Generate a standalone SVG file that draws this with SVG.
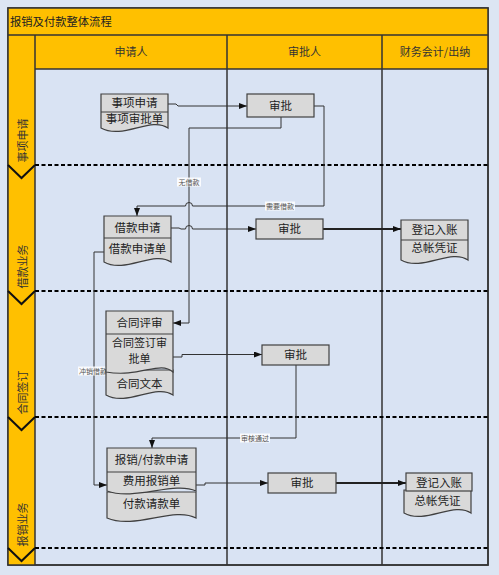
<svg xmlns="http://www.w3.org/2000/svg" width="499" height="575" viewBox="0 0 499 575">
<defs>
<style>
.t{font-family:"Noto Sans CJK SC","Liberation Sans",sans-serif;font-size:11.5px;fill:#222;text-anchor:middle}
.h{font-family:"Noto Sans CJK SC","Liberation Sans",sans-serif;font-size:11px;fill:#333;text-anchor:middle}
.lane{font-family:"Noto Sans CJK SC","Liberation Sans",sans-serif;font-size:11px;fill:#333;text-anchor:middle;dominant-baseline:central}
.lbl{font-family:"Noto Sans CJK SC","Liberation Sans",sans-serif;font-size:7px;fill:#555;text-anchor:middle;dominant-baseline:central}
.box{fill:#D9D9D9;stroke:#404040;stroke-width:1.2}
.c{fill:none;stroke:#333;stroke-width:1}
.ct{fill:none;stroke:#222;stroke-width:1.8}
.dash{stroke:#000;stroke-width:2;stroke-dasharray:4 2.5}
.col{stroke:#333;stroke-width:1.5}
.chev{fill:none;stroke:#111;stroke-width:2}
.lb{fill:#fff;opacity:0.85}
</style>
<marker id="ar" viewBox="0 0 8 6" refX="8" refY="3" markerWidth="8" markerHeight="6" markerUnits="userSpaceOnUse" orient="auto">
<path d="M0,0 L8,3 L0,6 Z" fill="#111"/>
</marker>
</defs>
<rect x="0" y="0" width="499" height="575" fill="#DCE5F3"/>
<g id="frame">
<rect x="8" y="8" width="480" height="557" fill="#D9E3F3" stroke="#333" stroke-width="1.5"/>
<rect x="8" y="8" width="480" height="27" fill="#FFC000"/>
<rect x="35" y="35" width="453" height="34" fill="#FFC000"/>
<rect x="8" y="35" width="27" height="530" fill="#FFC000"/>
<line x1="8" y1="35" x2="488" y2="35" class="col"/>
<line x1="35" y1="69" x2="488" y2="69" class="col"/>
<line x1="35" y1="35" x2="35" y2="565" class="col"/>
<line x1="227" y1="35" x2="227" y2="565" class="col"/>
<line x1="382" y1="35" x2="382" y2="565" class="col"/>
<rect x="8" y="8" width="480" height="557" fill="none" stroke="#333" stroke-width="1.5"/>
<line x1="35" y1="165" x2="488" y2="165" class="dash"/>
<line x1="35" y1="291" x2="488" y2="291" class="dash"/>
<line x1="35" y1="417" x2="488" y2="417" class="dash"/>
<line x1="35" y1="548" x2="488" y2="548" class="dash"/>
<polyline points="8,165 21.5,178 35,165" class="chev"/>
<polyline points="8,291 21.5,304 35,291" class="chev"/>
<polyline points="8,417 21.5,430 35,417" class="chev"/>
<polyline points="8,548 21.5,561 35,548" class="chev"/>
<text x="10" y="25.5" class="h" style="text-anchor:start;font-size:11.3px;fill:#222">报销及付款整体流程</text>
<text x="131" y="56" class="h">申请人</text>
<text x="304.5" y="56" class="h">审批人</text>
<text x="435" y="56" class="h">财务会计/出纳</text>
<text x="21.5" y="140.5" class="lane" transform="rotate(-90 21.5 140.5)">事项申请</text>
<text x="21.5" y="266.5" class="lane" transform="rotate(-90 21.5 266.5)">借款业务</text>
<text x="21.5" y="392.5" class="lane" transform="rotate(-90 21.5 392.5)">合同签订</text>
<text x="21.5" y="524.5" class="lane" transform="rotate(-90 21.5 524.5)">报销业务</text>
</g>
<g id="connectors">
<path d="M168,104 H176 L178,106 H247" class="c" marker-end="url(#ar)"/>
<path d="M281,117 V128 H189 V323 H173" class="c" marker-end="url(#ar)"/>
<path d="M314,106 H324 V206 H192.5 A3.5,3.5 0 0 0 185.5,206 H137 V216" class="c" marker-end="url(#ar)"/>
<path d="M171,228 H179 L181,229 H185.5 A3.5,3.5 0 0 1 192.5,229 H256" class="c" marker-end="url(#ar)"/>
<path d="M323,229 H401" class="ct" marker-end="url(#ar)"/>
<path d="M104,252 H94 V485 H107" class="c" marker-end="url(#ar)"/>
<path d="M173,357 H182 V354.5 H262" class="c" marker-end="url(#ar)"/>
<path d="M296,365 V438 H152 V448" class="c" marker-end="url(#ar)"/>
<path d="M196,485 H205 V483 H268" class="c" marker-end="url(#ar)"/>
<path d="M336,483 H406" class="ct" marker-end="url(#ar)"/>
<rect x="177" y="177.5" width="24" height="9" class="lb"/>
<text x="189" y="182" class="lbl">无借款</text>
<rect x="265" y="201.5" width="30" height="9" class="lb"/>
<text x="280" y="206" class="lbl">需要借款</text>
<rect x="78" y="366.5" width="30" height="9" class="lb"/>
<text x="93" y="371" class="lbl">冲销借款</text>
<rect x="240" y="433.5" width="30" height="9" class="lb"/>
<text x="255" y="438" class="lbl">审核通过</text>
</g>
<g id="n-shixiang">
<path d="M101,94 H168 V128 C151,116 123,140 101,128 Z" class="box"/>
<line x1="101" y1="112" x2="168" y2="112" stroke="#404040" stroke-width="1.2"/>
<text x="134.5" y="107" class="t">事项申请</text>
<text x="134.5" y="122.5" class="t">事项审批单</text>
</g>
<g id="n-shenpi1">
<rect x="247" y="94" width="67" height="23" class="box"/>
<text x="280.5" y="109.5" class="t">审批</text>
</g>
<g id="n-jiekuan">
<path d="M104,216 H171 V262 C154,250 125,274 104,262 Z" class="box"/>
<line x1="104" y1="238" x2="171" y2="238" stroke="#404040" stroke-width="1.2"/>
<text x="137.5" y="231.5" class="t">借款申请</text>
<text x="137.5" y="252.5" class="t">借款申请单</text>
</g>
<g id="n-shenpi2">
<rect x="256" y="219" width="67" height="20" class="box"/>
<text x="289.5" y="233" class="t">审批</text>
</g>
<g id="n-dengji1">
<path d="M401,220 H468 V260 C451,248 422,272 401,260 Z" class="box"/>
<line x1="401" y1="240" x2="468" y2="240" stroke="#404040" stroke-width="1.2"/>
<text x="434.5" y="233.5" class="t">登记入账</text>
<text x="434.5" y="251.5" class="t">总帐凭证</text>
</g>
<g id="n-hetong">
<path d="M106,370 H173 V395 C156,383 127,407 106,395 Z" class="box"/>
<path d="M106,311 H173 V372 C160,360 140,378 106,372 Z" class="box"/>
<line x1="106" y1="334" x2="173" y2="334" stroke="#404040" stroke-width="1.2"/>
<text x="139.5" y="326.5" class="t">合同评审</text>
<text x="139.5" y="347" class="t" style="font-size:11px">合同签订审</text>
<text x="139.5" y="363" class="t" style="font-size:11px">批单</text>
<text x="139.5" y="388" class="t">合同文本</text>
</g>
<g id="n-shenpi3">
<rect x="262" y="345" width="67" height="20" class="box"/>
<text x="295.5" y="359" class="t">审批</text>
</g>
<g id="n-baoxiao">
<path d="M107,492 H196 V518 C174,506 135,530 107,518 Z" class="box"/>
<path d="M107,448 H196 V491 C174,481 135,501 107,491 Z" class="box"/>
<line x1="107" y1="472" x2="196" y2="472" stroke="#404040" stroke-width="1.2"/>
<text x="151.5" y="463.5" class="t">报销/付款申请</text>
<text x="151.5" y="485" class="t">费用报销单</text>
<text x="151.5" y="507.5" class="t">付款请款单</text>
</g>
<g id="n-shenpi4">
<rect x="268" y="473" width="68" height="20" class="box"/>
<text x="302" y="487" class="t">审批</text>
</g>
<g id="n-dengji2">
<path d="M404,490 H471 V513 C454,501 425,525 404,513 Z" class="box"/>
<rect x="406" y="473" width="66" height="18" class="box"/>
<text x="439" y="486.5" class="t">登记入账</text>
<text x="437.5" y="504.5" class="t">总帐凭证</text>
</g>
</svg>
